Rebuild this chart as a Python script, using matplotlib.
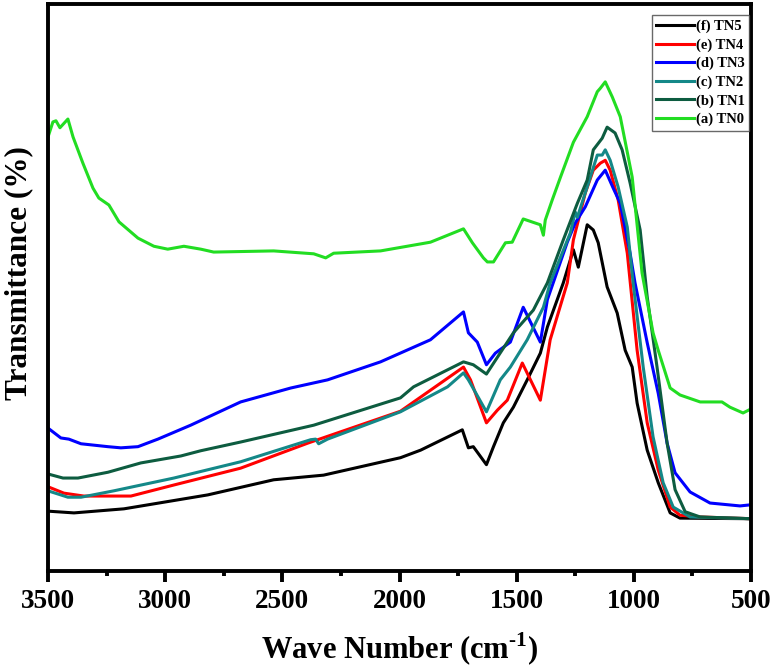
import matplotlib
matplotlib.use('Agg')
import matplotlib.pyplot as plt
from matplotlib.ticker import MultipleLocator

plt.rcParams['font.family'] = ['Liberation Serif', 'DejaVu Serif']
plt.rcParams['font.weight'] = 'bold'
plt.rcParams['mathtext.fontset'] = 'custom'
plt.rcParams['mathtext.rm'] = 'Liberation Serif:bold'
plt.rcParams['mathtext.bf'] = 'Liberation Serif:bold'

# 各样品的FTIR数据
wn_tn0 = [3500, 3479, 3466, 3449, 3415, 3393, 3351, 3308, 3283, 3240, 3197, 3116, 3048, 2989,
          2920, 2848, 2793, 2537, 2366, 2315, 2281, 2081, 1868, 1727, 1689, 1642, 1625, 1599,
          1548, 1519, 1472, 1399, 1386, 1378, 1348, 1313, 1258, 1199, 1156, 1143, 1122, 1092,
          1058, 1007, 965, 918, 896, 845, 803, 717, 624, 590, 534, 500]
t_tn0 = [77.1, 79.7, 79.9, 78.7, 80.2, 77.1, 72.6, 68.3, 66.6, 65.4, 62.5, 59.7, 58.3, 57.8,
         58.3, 57.8, 57.3, 57.5, 57.0, 56.3, 57.1, 57.5, 59.0, 61.3, 58.9, 56.3, 55.6, 55.6,
         58.9, 59.0, 63.0, 62.0, 60.2, 62.8, 66.3, 70.2, 76.2, 80.6, 84.9, 85.5, 86.6, 84.0,
         80.6, 70.2, 53.7, 43.4, 40.4, 33.9, 32.7, 31.5, 31.5, 30.6, 29.6, 30.3]

wn_tn1 = [3500, 3436, 3372, 3244, 3104, 2933, 2848, 2678, 2366, 1996, 1940, 1727, 1685, 1629,
          1582, 1514, 1429, 1369, 1301, 1241, 1199, 1173, 1135, 1114, 1080, 1050, 1016, 973,
          943, 901, 858, 824, 781, 717, 500]
t_tn1 = [19.1, 18.4, 18.4, 19.4, 21.0, 22.2, 23.1, 24.6, 27.5, 32.2, 34.1, 38.4, 37.9, 36.3,
         39.2, 43.4, 47.3, 52.0, 59.4, 65.7, 69.7, 74.9, 76.9, 78.8, 77.8, 74.9, 69.2, 61.1,
         49.6, 37.5, 24.4, 16.4, 12.6, 11.7, 11.4]

wn_tn2 = [3500, 3415, 3359, 3219, 2963, 2678, 2379, 2358, 2345, 2307, 1996, 1795, 1727, 1706,
          1629, 1570, 1527, 1455, 1386, 1357, 1271, 1250, 1241, 1199, 1156, 1135, 1122, 1101,
          1067, 1028, 1003, 960, 918, 875, 832, 760, 500]
t_tn2 = [16.2, 15.1, 15.1, 16.2, 18.4, 21.2, 25.0, 25.1, 24.3, 25.1, 29.8, 34.1, 36.5, 35.3,
         29.8, 35.3, 37.5, 42.2, 47.8, 52.0, 60.6, 64.2, 63.3, 68.5, 74.0, 74.0, 74.9, 73.1,
         68.5, 61.6, 52.0, 37.5, 25.5, 17.6, 13.4, 11.7, 11.4]

wn_tn3 = [3500, 3445, 3411, 3359, 3244, 3189, 3116, 3031, 2891, 2678, 2464, 2307, 2081, 1868,
          1727, 1706, 1668, 1629, 1591, 1527, 1472, 1399, 1369, 1284, 1250, 1207, 1156, 1122,
          1088, 1058, 1016, 995, 943, 896, 858, 824, 760, 675, 547, 500]
t_tn3 = [27.0, 25.3, 25.1, 24.3, 23.8, 23.6, 23.8, 25.1, 27.5, 31.5, 33.9, 35.3, 38.4, 42.2,
         47.0, 43.4, 41.8, 37.9, 39.9, 41.8, 47.8, 41.8, 49.1, 59.0, 62.3, 65.1, 69.7, 71.4,
         68.3, 65.7, 57.1, 52.0, 41.7, 33.0, 24.4, 19.3, 16.0, 14.1, 13.6, 13.8]

wn_tn4 = [3500, 3432, 3347, 3146, 2963, 2678, 2392, 1996, 1727, 1697, 1629, 1582, 1540, 1476,
          1399, 1357, 1284, 1258, 1207, 1173, 1143, 1122, 1101, 1067, 1028, 986, 943, 896,
          845, 803, 717, 500]
t_tn4 = [16.9, 15.8, 15.3, 15.3, 17.2, 20.1, 24.4, 29.9, 37.5, 35.3, 27.9, 30.1, 31.8, 38.2,
         31.8, 42.2, 52.0, 59.4, 67.5, 71.4, 72.6, 73.1, 71.4, 66.3, 57.1, 40.4, 27.9, 19.8,
         13.4, 12.0, 11.7, 11.4]

wn_tn5 = [3500, 3389, 3176, 2818, 2537, 2324, 1996, 1910, 1732, 1706, 1685, 1629, 1599, 1557,
          1514, 1455, 1399, 1369, 1301, 1258, 1237, 1199, 1173, 1152, 1131, 1114, 1071, 1037,
          1007, 986, 943, 896, 845, 803, 500]
t_tn5 = [12.7, 12.4, 13.1, 15.5, 18.1, 18.9, 21.9, 23.2, 26.7, 23.6, 23.8, 20.7, 23.8, 27.9,
         30.6, 35.3, 39.9, 44.4, 52.0, 57.7, 54.7, 62.0, 61.1, 58.9, 54.7, 51.3, 46.8, 40.4,
         37.5, 31.3, 23.2, 17.6, 12.4, 11.5, 11.4]

fig = plt.figure(figsize=(7.74, 6.69), dpi=100)
ax = fig.add_axes([0.062, 0.1465, 0.9083, 0.8475])

ax.plot(wn_tn5, t_tn5, color='black', lw=2.2, label='(f) TN5')
ax.plot(wn_tn4, t_tn4, color='#ff0000', lw=2.2, label='(e) TN4')
ax.plot(wn_tn3, t_tn3, color='#0000ff', lw=2.2, label='(d) TN3')
ax.plot(wn_tn2, t_tn2, color='#148888', lw=2.2, label='(c) TN2')
ax.plot(wn_tn1, t_tn1, color='#0d5c40', lw=2.2, label='(b) TN1')
ax.plot(wn_tn0, t_tn0, color='#22dd22', lw=2.2, label='(a) TN0')

ax.set_xlim(3500, 500)
ax.set_ylim(2.4, 100)
ax.xaxis.set_major_locator(MultipleLocator(500))
ax.xaxis.set_minor_locator(MultipleLocator(250))
ax.set_yticks([])
ax.tick_params(axis='x', which='major', direction='out', length=8, width=2.8,
               labelsize=19.5, pad=5)
ax.tick_params(axis='x', which='minor', direction='out', length=3.5, width=2.8)
for s in ax.spines.values():
    s.set_linewidth(2.8)

ax.set_xlabel(r'Wave Number (cm$^{\text{-1}}$)', fontsize=22, fontweight='bold', labelpad=12)
ax.set_ylabel('Transmittance (%)', fontsize=22.5, fontweight='bold')
ax.yaxis.set_label_coords(-0.021, 0.525)

leg = ax.legend(loc='upper right', bbox_to_anchor=(0.997, 0.98), borderaxespad=0,
                fontsize=10.5, handlelength=2.6, handletextpad=0.1, labelspacing=0.35,
                fancybox=False, edgecolor='#444444', borderpad=0.3)
leg.get_frame().set_linewidth(1.0)

fig.savefig('out.png', dpi=100)
